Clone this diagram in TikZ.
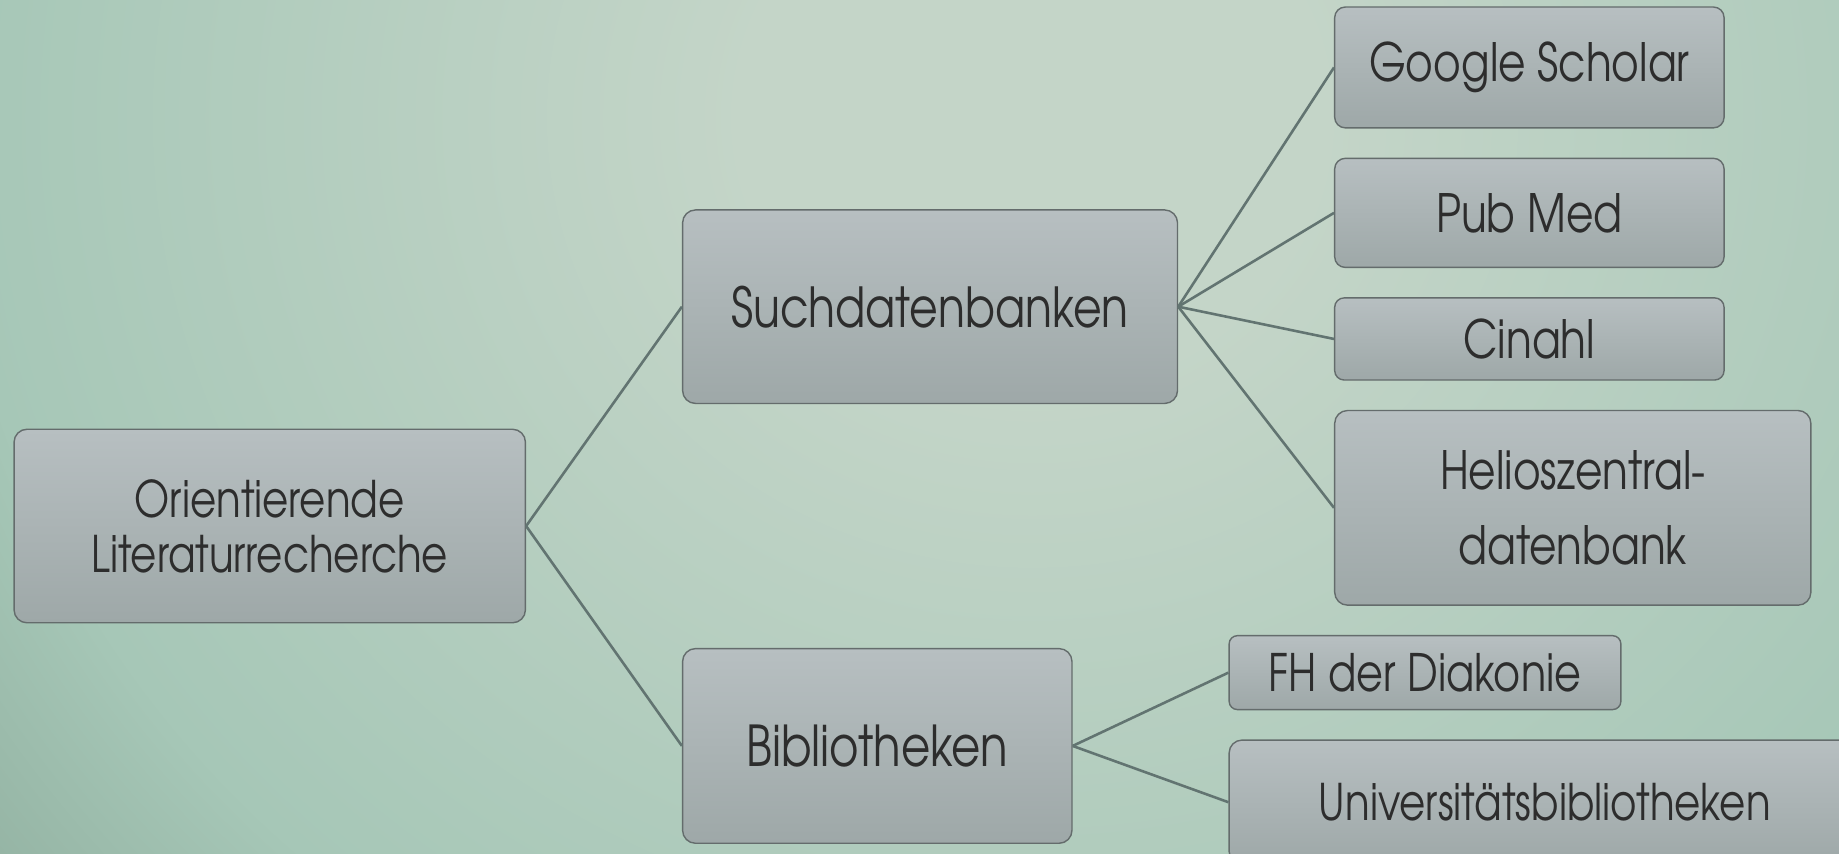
\documentclass[tikz,border=0pt]{standalone}
\usepackage{fontspec}
\setmainfont{TeX Gyre Adventor}[FakeStretch=0.80]
\definecolor{bgin}{RGB}{196,213,200}
\definecolor{bgmid}{RGB}{166,199,183}
\definecolor{bgout}{RGB}{114,142,126}
\definecolor{boxtop}{RGB}{183,191,193}
\definecolor{boxbot}{RGB}{158,168,168}
\definecolor{boxline}{RGB}{100,108,108}
\definecolor{conn}{RGB}{98,116,113}
\definecolor{txt}{RGB}{45,45,45}
\pgfdeclareradialshading{bgshade}{\pgfpoint{0bp}{0bp}}{color(0bp)=(bgin); color(4.1bp)=(bgin); color(15.3bp)=(bgmid); color(25.5bp)=(bgout); color(50bp)=(bgout)}
\tikzset{
  box/.style={draw=boxline, line width=1.2pt, rounded corners=11pt, top color=boxtop, bottom color=boxbot,
    inner sep=0pt, align=center, text=txt, font=\fontsize{47}{46}\selectfont},
  conn/.style={draw=conn, line width=2.2pt},
}
\begin{document}
\begin{tikzpicture}[x=1pt,y=-1pt]
\useasboundingbox (0,0) rectangle (1568,728);
\begin{scope}
\clip (0,0) rectangle (1568,728);
\shade[shading=bgshade] (880,100) ellipse [x radius=1500, y radius=1390];
\end{scope}
\begin{scope}
\clip (0,0) rectangle (1568,728);
\node[box, minimum width=436pt, minimum height=165pt, font=\fontsize{43}{47}\selectfont] (O) at (230,448.5) {Orientierende\\Literaturrecherche};
\node[box, minimum width=422pt, minimum height=165pt] (S) at (793,261.5) {Suchdatenbanken};
\node[box, minimum width=332pt, minimum height=166pt, font=\fontsize{48}{46}\selectfont] (B) at (748,636) {Bibliotheken};
\node[box, rounded corners=9pt, minimum width=332pt, minimum height=103pt, font=\fontsize{45}{46}\selectfont] (G) at (1304,57.5) {Google Scholar};
\node[box, rounded corners=9pt, minimum width=332pt, minimum height=93pt, font=\fontsize{45}{46}\selectfont] (P) at (1304,181.5) {Pub Med};
\node[box, rounded corners=8pt, minimum width=332pt, minimum height=70pt, font=\fontsize{45}{46}\selectfont] (C) at (1304,289) {Cinahl};
\node[box, minimum width=406pt, minimum height=166pt, font=\fontsize{45}{64}\selectfont] (H) at (1341,433) {Helioszentral-\\datenbank};
\node[box, rounded corners=7pt, minimum width=334pt, minimum height=63pt, font=\fontsize{44}{46}\selectfont] (F) at (1215,573.5) {FH der Diakonie};
\node[box, minimum width=538pt, minimum height=106pt, font=\fontsize{43}{46}\selectfont] (U) at (1317,684) {Universitätsbibliotheken};
\end{scope}
\draw[conn] (O.east) -- (S.west);
\draw[conn] (O.east) -- (B.west);
\draw[conn] (S.east) -- (G.west);
\draw[conn] (S.east) -- (P.west);
\draw[conn] (S.east) -- (C.west);
\draw[conn] (S.east) -- (H.west);
\draw[conn] (B.east) -- (F.west);
\draw[conn] (B.east) -- (U.west);
\end{tikzpicture}
\end{document}
